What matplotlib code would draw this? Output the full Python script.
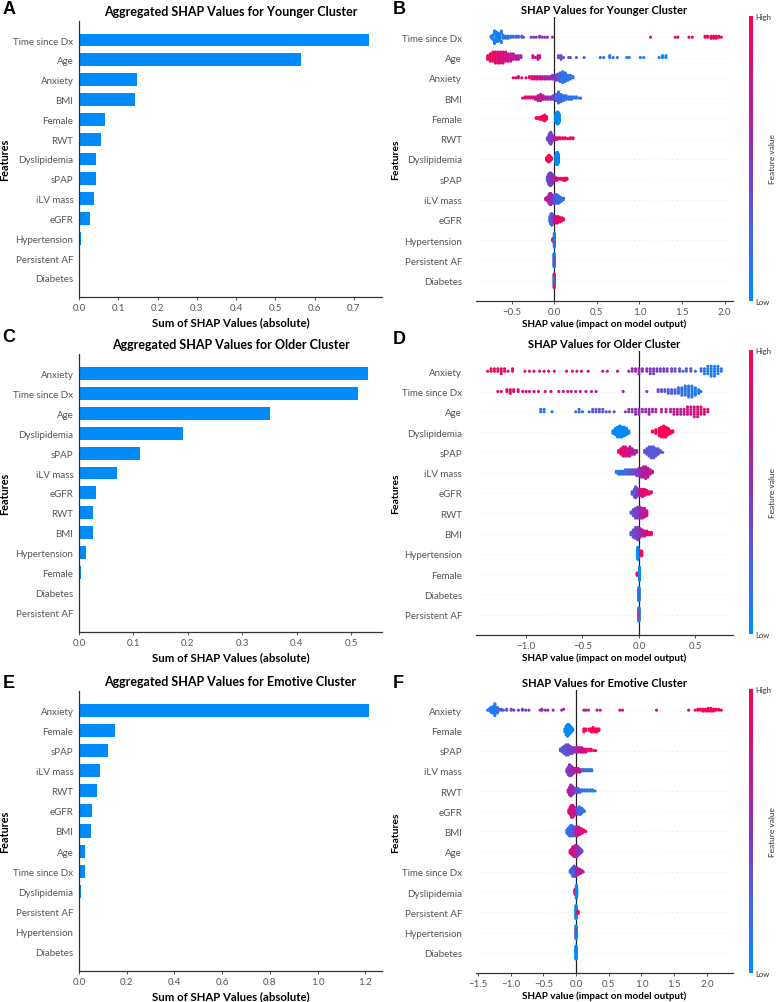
import numpy as np
import matplotlib
matplotlib.use("Agg")
import matplotlib.pyplot as plt
from matplotlib.colors import LinearSegmentedColormap
from matplotlib.cm import ScalarMappable
from matplotlib.ticker import MultipleLocator

plt.rcParams["font.family"] = ["Lato", "DejaVu Sans"]

# ---- aggregated |SHAP| bars (top to bottom) ----
YOUNG_BAR_FEATURES = ["Time since Dx", "Age", "Anxiety", "BMI", "Female", "RWT", "Dyslipidemia",
                      "sPAP", "iLV mass", "eGFR", "Hypertension", "Persistent AF", "Diabetes"]
YOUNG_BAR_VALUES = [0.738, 0.565, 0.147, 0.142, 0.065, 0.056, 0.044, 0.042, 0.039, 0.028, 0.005, 0.0, 0.0]

OLD_BAR_FEATURES = ["Anxiety", "Time since Dx", "Age", "Dyslipidemia", "sPAP", "iLV mass", "eGFR",
                    "RWT", "BMI", "Hypertension", "Female", "Diabetes", "Persistent AF"]
OLD_BAR_VALUES = [0.532, 0.512, 0.351, 0.192, 0.112, 0.070, 0.031, 0.026, 0.025, 0.013, 0.003, 0.0, 0.0]

EMO_BAR_FEATURES = ["Anxiety", "Female", "sPAP", "iLV mass", "RWT", "eGFR", "BMI", "Age",
                    "Time since Dx", "Dyslipidemia", "Persistent AF", "Hypertension", "Diabetes"]
EMO_BAR_VALUES = [1.214, 0.151, 0.123, 0.088, 0.074, 0.056, 0.049, 0.027, 0.025, 0.007, 0.002, 0.0, 0.0]

# ---- beeswarm readings: per feature (top to bottom) a list of (shap value, n points, feature value 0..1) ----
YOUNG_SWARM_FEATURES = YOUNG_BAR_FEATURES
YOUNG_SWARM = [
    # Time since Dx
    [(-0.74, 2, 0.1), (-0.72, 5, 0.08), (-0.70, 8, 0.05), (-0.68, 10, 0.05), (-0.66, 9, 0.08), (-0.64, 7, 0.1),
     (-0.62, 5, 0.12), (-0.60, 4, 0.15), (-0.57, 3, 0.15), (-0.54, 3, 0.2), (-0.51, 2, 0.2), (-0.48, 2, 0.2),
     (-0.45, 2, 0.22), (-0.42, 2, 0.25), (-0.38, 2, 0.25), (-0.36, 1, 0.3), (-0.27, 1, 0.45), (-0.24, 1, 0.5),
     (-0.21, 1, 0.45), (-0.17, 2, 0.55), (-0.14, 1, 0.5), (-0.11, 1, 0.5), (-0.08, 1, 0.55), (-0.02, 1, 0.5),
     (1.13, 1, 0.7), (1.42, 1, 0.9), (1.45, 1, 0.85), (1.58, 1, 0.9), (1.62, 1, 0.9), (1.77, 2, 0.95),
     (1.80, 2, 0.95), (1.84, 3, 0.95), (1.87, 3, 0.95), (1.90, 3, 0.95), (1.93, 2, 0.95), (1.96, 1, 0.95)],
    # Age
    [(-0.78, 3, 0.95), (-0.75, 5, 0.95), (-0.72, 6, 0.9), (-0.69, 7, 0.9), (-0.66, 7, 0.88), (-0.63, 7, 0.85),
     (-0.60, 7, 0.85), (-0.57, 6, 0.8), (-0.54, 5, 0.8), (-0.51, 5, 0.75), (-0.48, 4, 0.72), (-0.45, 3, 0.7),
     (-0.42, 3, 0.7), (-0.39, 2, 0.65), (-0.25, 2, 0.85), (-0.22, 1, 0.8), (-0.19, 3, 0.75), (-0.17, 2, 0.7),
     (0.05, 2, 0.45), (0.08, 3, 0.4), (0.11, 1, 0.4), (0.17, 1, 0.35), (0.19, 1, 0.35), (0.26, 1, 0.3),
     (0.35, 1, 0.3), (0.54, 1, 0.2), (0.58, 1, 0.15), (0.65, 2, 0.15), (0.69, 1, 0.15), (0.74, 1, 0.1),
     (0.85, 1, 0.1), (0.88, 1, 0.1), (1.01, 1, 0.1), (1.05, 1, 0.1), (1.23, 1, 0.05), (1.27, 2, 0.05),
     (1.31, 2, 0.05)],
    # Anxiety
    [(-0.48, 1, 0.95), (-0.45, 1, 0.95), (-0.42, 2, 0.9), (-0.38, 1, 0.9), (-0.33, 1, 0.9), (-0.29, 2, 0.9),
     (-0.26, 3, 0.85), (-0.23, 3, 0.85), (-0.20, 3, 0.8), (-0.17, 3, 0.75), (-0.14, 3, 0.75), (-0.11, 3, 0.7),
     (-0.08, 3, 0.65), (-0.05, 3, 0.6), (-0.02, 4, 0.55), (0.01, 5, 0.45), (0.04, 6, 0.35), (0.07, 8, 0.25),
     (0.10, 10, 0.15), (0.13, 8, 0.15), (0.16, 5, 0.15), (0.19, 4, 0.15), (0.22, 2, 0.15)],
    # BMI
    [(-0.37, 1, 0.9), (-0.34, 2, 0.85), (-0.31, 2, 0.85), (-0.28, 2, 0.8), (-0.25, 2, 0.8), (-0.22, 3, 0.8),
     (-0.19, 5, 0.75), (-0.16, 6, 0.75), (-0.13, 4, 0.7), (-0.10, 3, 0.65), (-0.07, 3, 0.6), (-0.04, 3, 0.5),
     (-0.01, 4, 0.45), (0.02, 6, 0.3), (0.05, 10, 0.2), (0.08, 7, 0.2), (0.11, 5, 0.15), (0.14, 4, 0.15),
     (0.17, 3, 0.15), (0.20, 3, 0.15), (0.23, 2, 0.15), (0.26, 2, 0.15), (0.29, 1, 0.15), (0.31, 1, 0.15)],
    # Female
    [(-0.21, 2, 1.0), (-0.19, 2, 1.0), (-0.17, 3, 1.0), (-0.15, 4, 1.0), (-0.13, 6, 1.0), (-0.11, 8, 1.0),
     (-0.09, 4, 1.0), (0.02, 10, 0.0), (0.03, 14, 0.0), (0.04, 16, 0.0), (0.05, 14, 0.0), (0.06, 10, 0.0)],
    # RWT
    [(-0.08, 3, 0.4), (-0.06, 8, 0.45), (-0.05, 12, 0.45), (-0.04, 14, 0.4), (-0.03, 10, 0.45), (-0.02, 6, 0.5),
     (-0.01, 4, 0.55), (0.01, 3, 0.7), (0.03, 3, 0.85), (0.05, 2, 0.9), (0.07, 2, 0.9), (0.10, 2, 0.95),
     (0.13, 2, 0.95), (0.16, 1, 0.95), (0.19, 2, 0.95), (0.22, 2, 0.95)],
    # Dyslipidemia
    [(-0.09, 3, 1.0), (-0.08, 5, 1.0), (-0.07, 7, 1.0), (-0.06, 8, 1.0), (-0.05, 6, 1.0), (-0.04, 4, 1.0),
     (-0.03, 2, 1.0), (0.02, 10, 0.0), (0.03, 14, 0.0), (0.04, 14, 0.0), (0.05, 10, 0.0)],
    # sPAP
    [(-0.08, 4, 0.4), (-0.07, 8, 0.4), (-0.06, 11, 0.45), (-0.05, 13, 0.4), (-0.04, 13, 0.45), (-0.03, 11, 0.5),
     (-0.02, 9, 0.5), (-0.01, 6, 0.55), (0.01, 4, 0.7), (0.03, 3, 0.8), (0.05, 2, 0.85), (0.08, 2, 0.9),
     (0.11, 3, 0.95), (0.13, 3, 0.95), (0.15, 2, 0.95)],
    # iLV mass
    [(-0.10, 2, 0.8), (-0.08, 4, 0.75), (-0.06, 8, 0.7), (-0.05, 10, 0.65), (-0.04, 10, 0.6), (-0.03, 8, 0.55),
     (-0.01, 7, 0.5), (0.01, 8, 0.3), (0.03, 8, 0.25), (0.05, 7, 0.2), (0.07, 5, 0.2), (0.09, 3, 0.15),
     (0.11, 2, 0.15)],
    # eGFR
    [(-0.05, 6, 0.2), (-0.04, 10, 0.25), (-0.03, 12, 0.3), (-0.02, 10, 0.35), (-0.01, 6, 0.45), (0.01, 6, 0.7),
     (0.02, 7, 0.8), (0.04, 7, 0.85), (0.05, 6, 0.9), (0.07, 5, 0.9), (0.09, 4, 0.95), (0.11, 2, 0.95)],
    # Hypertension
    [(-0.015, 6, 1.0), (0.002, 12, 0.0), (0.002, 3, 1.0), (0.002, 12, 0.0)],
    # Persistent AF
    [(0.0, 6, 0.0), (0.0, 2, 1.0), (0.0, 6, 0.0), (0.0, 2, 1.0), (0.0, 6, 0.0), (0.0, 2, 1.0), (0.0, 6, 0.0)],
    # Diabetes
    [(0.0, 3, 0.0), (0.0, 2, 1.0), (0.0, 3, 0.0), (0.0, 2, 1.0), (0.0, 3, 0.0), (0.0, 2, 1.0), (0.0, 3, 0.0),
     (0.0, 2, 1.0), (0.0, 3, 0.0), (0.0, 2, 1.0)],
]

OLD_SWARM_FEATURES = OLD_BAR_FEATURES
OLD_SWARM = [
    # Anxiety
    [(-1.34, 1, 0.95), (-1.31, 2, 0.95), (-1.28, 2, 0.95), (-1.25, 2, 0.9), (-1.22, 3, 0.95), (-1.19, 2, 0.9),
     (-1.16, 1, 0.9), (-1.12, 2, 0.9), (-1.01, 1, 0.9), (-0.97, 1, 0.85), (-0.93, 1, 0.9), (-0.88, 1, 0.85),
     (-0.84, 1, 0.85), (-0.80, 1, 0.85), (-0.75, 1, 0.85), (-0.64, 1, 0.85), (-0.59, 1, 0.8), (-0.55, 1, 0.8),
     (-0.51, 1, 0.8), (-0.45, 1, 0.8), (-0.32, 1, 0.75), (-0.28, 1, 0.75), (-0.19, 1, 0.75), (-0.09, 1, 0.6),
     (-0.06, 2, 0.55), (-0.03, 2, 0.6), (0.0, 3, 0.55), (0.03, 2, 0.5), (0.07, 2, 0.5), (0.10, 3, 0.45),
     (0.13, 3, 0.45), (0.16, 2, 0.45), (0.19, 2, 0.4), (0.22, 2, 0.45), (0.25, 2, 0.4), (0.29, 2, 0.4),
     (0.32, 2, 0.35), (0.36, 2, 0.35), (0.39, 1, 0.3), (0.42, 2, 0.3), (0.46, 2, 0.3), (0.50, 1, 0.25),
     (0.55, 2, 0.2), (0.58, 3, 0.15), (0.61, 4, 0.12), (0.64, 5, 0.1), (0.67, 5, 0.1), (0.70, 4, 0.1),
     (0.73, 2, 0.1)],
    # Time since Dx
    [(-1.25, 1, 0.95), (-1.22, 1, 0.95), (-1.17, 2, 0.95), (-1.14, 3, 0.95), (-1.11, 2, 0.9), (-1.07, 2, 0.9),
     (-1.03, 1, 0.9), (-1.00, 1, 0.9), (-0.97, 1, 0.85), (-0.93, 1, 0.85), (-0.89, 1, 0.85), (-0.83, 1, 0.85),
     (-0.78, 1, 0.8), (-0.71, 1, 0.8), (-0.67, 1, 0.8), (-0.63, 1, 0.8), (-0.60, 1, 0.75), (-0.56, 1, 0.75),
     (-0.52, 1, 0.7), (-0.47, 1, 0.7), (-0.42, 1, 0.7), (-0.38, 1, 0.65), (-0.14, 1, 0.55), (0.07, 1, 0.5),
     (0.17, 2, 0.4), (0.20, 2, 0.35), (0.23, 2, 0.35), (0.26, 3, 0.3), (0.29, 3, 0.3), (0.32, 3, 0.25),
     (0.35, 4, 0.25), (0.38, 5, 0.2), (0.41, 6, 0.15), (0.44, 7, 0.15), (0.47, 7, 0.12), (0.50, 5, 0.12),
     (0.53, 3, 0.1), (0.55, 1, 0.1)],
    # Age
    [(-0.87, 2, 0.1), (-0.84, 2, 0.1), (-0.77, 1, 0.1), (-0.56, 1, 0.2), (-0.53, 2, 0.2), (-0.50, 1, 0.2),
     (-0.44, 1, 0.25), (-0.41, 2, 0.3), (-0.38, 2, 0.3), (-0.35, 2, 0.35), (-0.32, 2, 0.3), (-0.29, 1, 0.35),
     (-0.26, 1, 0.35), (-0.22, 1, 0.4), (-0.12, 1, 0.45), (-0.09, 2, 0.5), (-0.06, 2, 0.45), (-0.03, 3, 0.5),
     (0.0, 3, 0.55), (0.03, 2, 0.5), (0.06, 2, 0.55), (0.09, 3, 0.6), (0.12, 2, 0.55), (0.15, 2, 0.6),
     (0.20, 2, 0.7), (0.24, 2, 0.65), (0.28, 2, 0.7), (0.31, 3, 0.7), (0.34, 3, 0.7), (0.37, 3, 0.75),
     (0.40, 3, 0.75), (0.43, 4, 0.8), (0.46, 4, 0.8), (0.49, 5, 0.8), (0.52, 5, 0.85), (0.55, 4, 0.85),
     (0.58, 3, 0.85), (0.61, 2, 0.9)],
    # Dyslipidemia
    [(-0.23, 3, 0.0), (-0.21, 6, 0.0), (-0.19, 9, 0.0), (-0.17, 10, 0.0), (-0.15, 9, 0.0), (-0.13, 8, 0.0),
     (-0.11, 6, 0.0), (-0.09, 3, 0.0), (0.12, 2, 1.0), (0.15, 4, 1.0), (0.18, 7, 1.0), (0.20, 9, 1.0),
     (0.22, 10, 1.0), (0.24, 9, 1.0), (0.26, 6, 1.0), (0.28, 3, 1.0), (0.30, 2, 1.0)],
    # sPAP
    [(-0.18, 2, 0.9), (-0.16, 4, 0.9), (-0.14, 6, 0.85), (-0.12, 6, 0.85), (-0.10, 5, 0.8), (-0.08, 6, 0.75),
     (-0.06, 4, 0.7), (-0.04, 3, 0.65), (-0.02, 2, 0.6), (0.05, 2, 0.4), (0.07, 4, 0.35), (0.09, 6, 0.3),
     (0.11, 7, 0.35), (0.13, 7, 0.3), (0.15, 5, 0.3), (0.17, 4, 0.35), (0.19, 2, 0.3), (0.21, 1, 0.3)],
    # iLV mass
    [(-0.20, 2, 0.1), (-0.18, 3, 0.1), (-0.16, 3, 0.15), (-0.14, 3, 0.2), (-0.12, 4, 0.2), (-0.10, 4, 0.25),
     (-0.08, 4, 0.3), (-0.06, 4, 0.35), (-0.04, 4, 0.4), (-0.02, 5, 0.45), (0.0, 6, 0.5), (0.02, 7, 0.6),
     (0.04, 8, 0.65), (0.06, 9, 0.7), (0.08, 7, 0.7), (0.10, 4, 0.75), (0.12, 2, 0.75)],
    # eGFR
    [(-0.06, 3, 0.4), (-0.04, 7, 0.35), (-0.03, 10, 0.3), (-0.02, 8, 0.4), (-0.01, 6, 0.5), (0.01, 6, 0.8),
     (0.03, 7, 0.85), (0.05, 6, 0.9), (0.07, 4, 0.9), (0.09, 3, 0.95), (0.11, 2, 0.95)],
    # RWT
    [(-0.07, 2, 0.3), (-0.05, 6, 0.35), (-0.03, 9, 0.4), (-0.01, 10, 0.45), (0.01, 10, 0.6), (0.03, 9, 0.7),
     (0.05, 8, 0.75), (0.07, 5, 0.8)],
    # BMI
    [(-0.07, 3, 0.3), (-0.05, 7, 0.35), (-0.03, 10, 0.4), (-0.01, 11, 0.45), (0.01, 8, 0.55), (0.03, 6, 0.7),
     (0.05, 5, 0.8), (0.07, 4, 0.85), (0.09, 3, 0.9), (0.11, 3, 0.95)],
    # Hypertension
    [(-0.01, 14, 0.0), (-0.005, 10, 0.0), (0.015, 6, 1.0), (0.025, 6, 1.0)],
    # Female
    [(-0.015, 5, 1.0), (0.005, 24, 0.0)],
    # Diabetes
    [(0.0, 8, 0.0), (0.0, 2, 1.0), (0.0, 8, 0.0), (0.0, 2, 1.0), (0.0, 8, 0.0)],
    # Persistent AF
    [(0.0, 5, 0.0), (0.0, 2, 1.0), (0.0, 5, 0.0), (0.0, 2, 1.0), (0.0, 5, 0.0), (0.0, 2, 1.0), (0.0, 5, 0.0)],
]

EMO_SWARM_FEATURES = EMO_BAR_FEATURES
EMO_SWARM = [
    # Anxiety
    [(-1.35, 1, 0.2), (-1.33, 2, 0.15), (-1.30, 4, 0.1), (-1.28, 7, 0.1), (-1.26, 8, 0.1), (-1.24, 6, 0.1),
     (-1.22, 4, 0.15), (-1.20, 3, 0.2), (-1.17, 2, 0.25), (-1.14, 2, 0.3), (-1.11, 1, 0.3), (-1.06, 2, 0.35),
     (-0.99, 2, 0.4), (-0.95, 1, 0.4), (-0.88, 1, 0.45), (-0.82, 2, 0.45), (-0.77, 1, 0.45), (-0.72, 1, 0.5),
     (-0.55, 1, 0.55), (-0.52, 2, 0.55), (-0.47, 1, 0.55), (-0.43, 1, 0.6), (-0.35, 1, 0.6), (-0.22, 1, 0.6),
     (-0.19, 1, 0.6), (0.12, 1, 0.7), (0.15, 1, 0.7), (0.19, 1, 0.75), (0.32, 1, 0.75), (0.37, 1, 0.75),
     (0.67, 1, 0.8), (0.71, 1, 0.8), (1.23, 1, 0.9), (1.72, 1, 0.9), (1.82, 1, 0.95), (1.86, 2, 0.95),
     (1.90, 2, 0.95), (1.94, 3, 0.95), (1.98, 3, 0.95), (2.02, 4, 0.95), (2.06, 4, 0.95), (2.10, 3, 0.95),
     (2.14, 2, 0.95), (2.18, 2, 0.95), (2.22, 1, 0.95)],
    # Female
    [(-0.17, 3, 0.0), (-0.15, 7, 0.0), (-0.13, 9, 0.0), (-0.11, 8, 0.0), (-0.09, 6, 0.0), (-0.07, 4, 0.0),
     (-0.05, 2, 0.0), (0.12, 3, 1.0), (0.15, 2, 1.0), (0.20, 2, 1.0), (0.23, 3, 1.0), (0.26, 4, 1.0),
     (0.29, 3, 1.0), (0.32, 3, 1.0), (0.35, 2, 1.0)],
    # sPAP
    [(-0.24, 2, 0.3), (-0.21, 4, 0.3), (-0.18, 6, 0.35), (-0.15, 8, 0.35), (-0.12, 8, 0.4), (-0.09, 6, 0.4),
     (-0.06, 5, 0.45), (-0.03, 4, 0.5), (0.0, 4, 0.6), (0.03, 4, 0.7), (0.06, 4, 0.75), (0.09, 4, 0.8),
     (0.12, 3, 0.85), (0.15, 3, 0.85), (0.19, 2, 0.9), (0.23, 2, 0.9), (0.27, 1, 0.95), (0.30, 1, 0.9)],
    # iLV mass
    [(-0.14, 3, 0.45), (-0.12, 7, 0.45), (-0.10, 10, 0.5), (-0.08, 9, 0.5), (-0.06, 7, 0.55), (-0.04, 5, 0.6),
     (-0.02, 4, 0.65), (0.0, 4, 0.7), (0.03, 4, 0.75), (0.06, 3, 0.8), (0.09, 2, 0.3), (0.12, 2, 0.25),
     (0.15, 2, 0.2), (0.18, 2, 0.2), (0.21, 2, 0.15), (0.24, 2, 0.15)],
    # RWT
    [(-0.12, 3, 0.7), (-0.10, 7, 0.65), (-0.08, 10, 0.6), (-0.06, 8, 0.6), (-0.04, 6, 0.55), (-0.02, 4, 0.5),
     (0.0, 4, 0.4), (0.03, 4, 0.3), (0.06, 3, 0.25), (0.09, 2, 0.2), (0.13, 2, 0.15), (0.17, 2, 0.15),
     (0.21, 2, 0.15), (0.25, 2, 0.1), (0.29, 1, 0.1)],
    # eGFR
    [(-0.11, 3, 0.85), (-0.09, 6, 0.85), (-0.07, 9, 0.8), (-0.05, 9, 0.8), (-0.03, 7, 0.75), (-0.01, 5, 0.7),
     (0.01, 4, 0.4), (0.03, 5, 0.3), (0.05, 6, 0.25), (0.07, 5, 0.2), (0.09, 4, 0.2), (0.11, 2, 0.15),
     (0.13, 1, 0.15)],
    # BMI
    [(-0.14, 3, 0.15), (-0.12, 5, 0.15), (-0.10, 7, 0.2), (-0.08, 8, 0.2), (-0.06, 8, 0.25), (-0.04, 7, 0.3),
     (-0.02, 6, 0.4), (0.0, 7, 0.6), (0.02, 7, 0.7), (0.04, 6, 0.8), (0.06, 5, 0.85), (0.08, 4, 0.85),
     (0.10, 3, 0.9), (0.12, 2, 0.9), (0.15, 1, 0.9)],
    # Age
    [(-0.09, 3, 0.8), (-0.07, 5, 0.8), (-0.05, 8, 0.85), (-0.03, 9, 0.8), (-0.01, 10, 0.7), (0.01, 10, 0.6),
     (0.03, 8, 0.55), (0.05, 6, 0.5), (0.07, 4, 0.45), (0.09, 2, 0.4)],
    # Time since Dx
    [(-0.09, 2, 0.2), (-0.07, 4, 0.2), (-0.05, 7, 0.25), (-0.03, 8, 0.3), (-0.01, 7, 0.4), (0.01, 6, 0.6),
     (0.03, 5, 0.65), (0.05, 4, 0.7), (0.07, 3, 0.7), (0.09, 2, 0.75), (0.11, 1, 0.75)],
    # Dyslipidemia
    [(-0.015, 8, 1.0), (0.005, 20, 0.0), (0.01, 10, 0.0)],
    # Persistent AF
    [(0.0, 24, 0.0), (0.03, 5, 1.0)],
    # Hypertension
    [(0.0, 6, 0.0), (0.0, 2, 1.0), (0.0, 6, 0.0), (0.0, 2, 1.0), (0.0, 6, 0.0)],
    # Diabetes
    [(0.0, 24, 0.0)],
]

BAR_COLOR = "#008bfb"
TICK_GREY = "#555555"
CMAP = LinearSegmentedColormap.from_list(
    "shap_red_blue", ["#008bfb", "#4466e0", "#8a33bd", "#c4148f", "#ff0052"])


def bar_panel(ax, features, values, title, xmax, step):
    pos = np.arange(len(features))[::-1]
    ax.barh(pos, values, height=0.65, color=BAR_COLOR)
    ax.set_yticks(pos)
    ax.set_yticklabels(features)
    ax.set_ylim(-0.96, len(features) - 0.04)
    ax.set_xlim(0, xmax)
    ax.xaxis.set_major_locator(MultipleLocator(step))
    ax.spines[["top", "right"]].set_visible(False)
    for s in ["left", "bottom"]:
        ax.spines[s].set_color("#333333")
        ax.spines[s].set_linewidth(0.9)
    ax.tick_params(axis="y", length=0, pad=4, labelsize=7, labelcolor=TICK_GREY)
    ax.tick_params(axis="x", length=2.5, width=0.6, color="#333333", pad=2,
                   labelsize=7, labelcolor=TICK_GREY)
    ax.set_title(title, fontsize=9, fontweight="bold", pad=4)
    ax.set_xlabel("Sum of SHAP Values (absolute)", fontsize=8.2, fontweight="bold", labelpad=2.5)
    ax.set_ylabel("Features", fontsize=7.8, fontweight="bold", va="center")
    ax.yaxis.set_label_coords(-0.245, 0.5)


def swarm_panel(ax, features, clumps, title):
    n = len(features)
    for p in range(n):
        ax.axhline(p, color="#cccccc", lw=0.5, dashes=(1, 5), zorder=-1)
    ax.axvline(0, color="#222222", lw=0.9, zorder=-1)
    for i, groups in enumerate(clumps):
        row = n - 1 - i
        shaps = np.array([x for x, k, c in groups for _ in range(k)], dtype=float)
        vals = np.array([c for x, k, c in groups for _ in range(k)], dtype=float)
        span = shaps.max() - shaps.min()
        quant = np.round(100 * (shaps - shaps.min()) / (span + 1e-8))
        order = np.argsort(quant, kind="stable")
        ys = np.zeros(len(shaps))
        layer, last = 0, None
        for ind in order:
            if quant[ind] != last:
                layer = 0
            ys[ind] = np.ceil(layer / 2) * ((layer % 2) * 2 - 1)
            layer += 1
            last = quant[ind]
        ys *= 0.9 * (0.4 / np.max(ys + 1))
        ax.scatter(shaps, row + ys, c=vals, cmap=CMAP, vmin=0, vmax=1, s=5, linewidths=0, zorder=3)
    ax.set_yticks(np.arange(n)[::-1])
    ax.set_yticklabels(features)
    ax.set_ylim(-1, n)
    ax.xaxis.set_major_locator(MultipleLocator(0.5))
    for s in ["top", "right", "left"]:
        ax.spines[s].set_visible(False)
    ax.spines["bottom"].set_color("#333333")
    ax.spines["bottom"].set_linewidth(0.9)
    ax.tick_params(axis="y", length=0, pad=10, labelsize=7, labelcolor=TICK_GREY)
    ax.tick_params(axis="x", length=2.5, width=0.6, color="#333333", pad=2,
                   labelsize=7, labelcolor=TICK_GREY)
    ax.set_title(title, fontsize=8, fontweight="bold", pad=3)
    ax.set_xlabel("SHAP value (impact on model output)", fontsize=7.1, fontweight="bold", labelpad=1.5)
    ax.set_ylabel("Features", fontsize=7.5, fontweight="bold", va="center")
    ax.yaxis.set_label_coords(-0.313, 0.5)


def colorbar(fig, rect):
    cax = fig.add_axes(rect)
    cb = fig.colorbar(ScalarMappable(cmap=CMAP), cax=cax, ticks=[0, 1])
    cb.set_ticklabels(["Low", "High"])
    cb.outline.set_visible(False)
    cax.tick_params(length=0, pad=2, labelsize=5.5, labelcolor="#333333")
    cb.set_label("Feature value", fontsize=6, labelpad=-2, color="#333333")


fig = plt.figure(figsize=(7.77, 10.03), dpi=100)

left_rects = [[0.1017, 0.7029, 0.390, 0.2752], [0.1017, 0.3689, 0.390, 0.2772], [0.1017, 0.0309, 0.390, 0.2792]]
right_rects = [[0.6126, 0.6989, 0.3308, 0.2832], [0.6126, 0.3659, 0.3308, 0.2832], [0.6126, 0.0289, 0.3308, 0.2822]]
cbar_rects = [[0.964, 0.6989, 0.005, 0.2842], [0.964, 0.3669, 0.005, 0.2832], [0.964, 0.0289, 0.005, 0.2832]]

bar_panel(fig.add_axes(left_rects[0]), YOUNG_BAR_FEATURES, YOUNG_BAR_VALUES,
          "Aggregated SHAP Values for Younger Cluster", 0.772, 0.1)
bar_panel(fig.add_axes(left_rects[1]), OLD_BAR_FEATURES, OLD_BAR_VALUES,
          "Aggregated SHAP Values for Older Cluster", 0.557, 0.1)
bar_panel(fig.add_axes(left_rects[2]), EMO_BAR_FEATURES, EMO_BAR_VALUES,
          "Aggregated SHAP Values for Emotive Cluster", 1.27, 0.2)

swarm_panel(fig.add_axes(right_rects[0]), YOUNG_SWARM_FEATURES, YOUNG_SWARM, "SHAP Values for Younger Cluster")
swarm_panel(fig.add_axes(right_rects[1]), OLD_SWARM_FEATURES, OLD_SWARM, "SHAP Values for Older Cluster")
swarm_panel(fig.add_axes(right_rects[2]), EMO_SWARM_FEATURES, EMO_SWARM, "SHAP Values for Emotive Cluster")

for r in cbar_rects:
    colorbar(fig, r)

for letter, x, ypx in [("A", 0.003, 9), ("B", 0.506, 9), ("C", 0.003, 338),
                       ("D", 0.506, 340), ("E", 0.003, 683), ("F", 0.506, 683)]:
    fig.text(x, 1 - ypx / 1003, letter, fontsize=13, fontweight="bold",
             family=["Liberation Sans", "DejaVu Sans"], va="center", ha="left")

fig.savefig("out.png", dpi=100)
